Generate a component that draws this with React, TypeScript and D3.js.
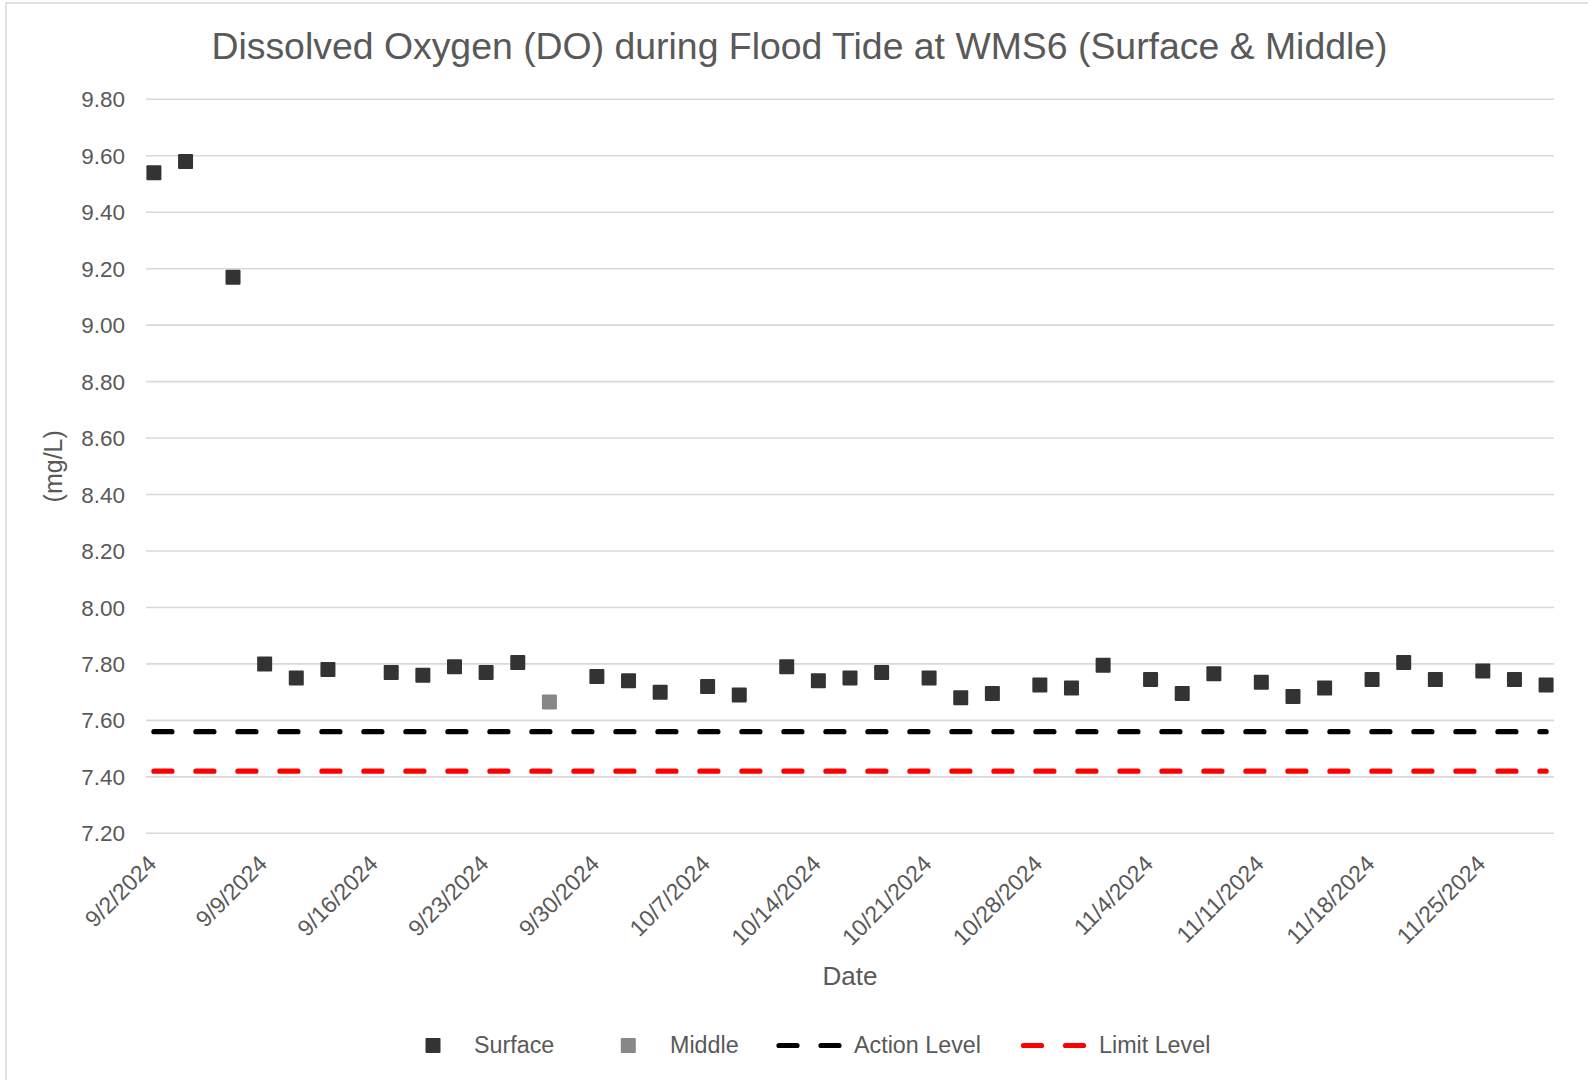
import * as d3 from 'd3';

const surfaceDates = [
  '2024-09-02', '2024-09-04', '2024-09-07', '2024-09-09', '2024-09-11', '2024-09-13',
  '2024-09-17', '2024-09-19', '2024-09-21', '2024-09-23', '2024-09-25', '2024-09-30',
  '2024-10-02', '2024-10-04', '2024-10-07', '2024-10-09', '2024-10-12', '2024-10-14',
  '2024-10-16', '2024-10-18', '2024-10-21', '2024-10-23', '2024-10-25', '2024-10-28',
  '2024-10-30', '2024-11-01', '2024-11-04', '2024-11-06', '2024-11-08', '2024-11-11',
  '2024-11-13', '2024-11-15', '2024-11-18', '2024-11-20', '2024-11-22', '2024-11-25',
  '2024-11-27', '2024-11-29',
];
const surfaceValues = [
  9.54, 9.58, 9.17, 7.80, 7.75, 7.78,
  7.77, 7.76, 7.79, 7.77, 7.805, 7.755,
  7.74, 7.70, 7.72, 7.69, 7.79, 7.74,
  7.75, 7.77, 7.75, 7.68, 7.695, 7.725,
  7.715, 7.795, 7.745, 7.695, 7.765, 7.735,
  7.685, 7.715, 7.745, 7.805, 7.745, 7.775,
  7.745, 7.725,
];

const middleDates = ['2024-09-27'];
const middleValues = [7.665];

const actionLevel = 7.56;
const limitLevel = 7.42;

const xTickDates = [
  '2024-09-02', '2024-09-09', '2024-09-16', '2024-09-23', '2024-09-30', '2024-10-07',
  '2024-10-14', '2024-10-21', '2024-10-28', '2024-11-04', '2024-11-11', '2024-11-18',
  '2024-11-25',
];
const yTicks = [7.2, 7.4, 7.6, 7.8, 8.0, 8.2, 8.4, 8.6, 8.8, 9.0, 9.2, 9.4, 9.6, 9.8];

const W = 1588;
const H = 1080;
const margin = { top: 99.3, right: 34, bottom: 246.7, left: 146 };
const FONT = '"Liberation Sans", Arial, Helvetica, sans-serif';
const TEXT = '#595959';

const parse = d3.utcParse('%Y-%m-%d');
const fmt = d3.utcFormat('%-m/%-d/%Y');

export default function App() {
  const sDates = surfaceDates.map(d => parse(d) as Date);
  const mDates = middleDates.map(d => parse(d) as Date);
  const [d0, d1] = d3.extent(sDates) as [Date, Date];
  const halfDay = 12 * 3600 * 1000;

  const x = d3.scaleUtc()
    .domain([new Date(+d0 - halfDay), new Date(+d1 + halfDay)])
    .range([margin.left, W - margin.right]);
  const y = d3.scaleLinear()
    .domain([7.2, 9.8])
    .range([H - margin.bottom, margin.top]);

  const line = d3.line<[Date, number]>()
    .x(d => x(d[0]))
    .y(d => y(d[1]));

  const levels = [
    { name: 'Action Level', value: actionLevel, color: '#000000' },
    { name: 'Limit Level', value: limitLevel, color: '#FF0000' },
  ];

  const surface = sDates.map((d, i) => [d, surfaceValues[i]] as [Date, number]);
  const middle = mDates.map((d, i) => [d, middleValues[i]] as [Date, number]);
  const ms = 15;

  const legendY = 1045.5;
  const legend = [
    { name: 'Surface', kind: 'square', color: '#333333', x: 425.5, tx: 474 },
    { name: 'Middle', kind: 'square', color: '#878787', x: 620.8, tx: 670 },
    { name: 'Action Level', kind: 'line', color: '#000000', x: 779, tx: 854 },
    { name: 'Limit Level', kind: 'line', color: '#FF0000', x: 1023.5, tx: 1099 },
  ];

  return (
    <div style={{ position: 'absolute', left: 0, top: 0 }}>
      <svg width={W} height={H} style={{ display: 'block', background: '#fff' }} fontFamily={FONT}>
        {/* chart border */}
        <path d={`M6,${H} V3 H${W}`} fill="none" stroke="#d9d9d9" strokeWidth={1.5} />

        <text x={799.5} y={59} textAnchor="middle" fontSize={37.4} fill={TEXT}>
          Dissolved Oxygen (DO) during Flood Tide at WMS6 (Surface &amp; Middle)
        </text>

        {/* gridlines + y labels */}
        {yTicks.map(t => (
          <g key={t}>
            <line x1={margin.left} x2={W - margin.right} y1={y(t)} y2={y(t)} stroke="#d9d9d9" strokeWidth={1.6} />
            <text x={125} y={y(t)} dy="0.36em" textAnchor="end" fontSize={22.5} fill={TEXT}>
              {t.toFixed(2)}
            </text>
          </g>
        ))}

        {/* x labels */}
        {xTickDates.map(s => {
          const d = parse(s) as Date;
          return (
            <text key={s} transform={`translate(${x(d) + 4},${y(7.2) + 32}) rotate(-45)`}
              textAnchor="end" fontSize={23} fill={TEXT}>
              {fmt(d)}
            </text>
          );
        })}

        <text x={(margin.left + W - margin.right) / 2} y={985} textAnchor="middle" fontSize={26} fill={TEXT}>Date</text>
        <text transform={`translate(53,${(y(9.8) + y(7.2)) / 2}) rotate(-90)`} dy="0.35em"
          textAnchor="middle" fontSize={25} fill={TEXT}>(mg/L)</text>

        {/* level lines */}
        {levels.map(l => (
          <path key={l.name}
            d={line([[d0, l.value], [d1, l.value]]) ?? ''}
            fill="none" stroke={l.color} strokeWidth={5.2}
            strokeDasharray="18,24" strokeLinecap="round" />
        ))}

        {/* markers */}
        {surface.map((d, i) => (
          <rect key={`s${i}`} x={x(d[0]) - ms / 2} y={y(d[1]) - ms / 2} width={ms} height={ms} fill="#333333" rx={1} />
        ))}
        {middle.map((d, i) => (
          <rect key={`m${i}`} x={x(d[0]) - ms / 2} y={y(d[1]) - ms / 2} width={ms} height={ms} fill="#878787" rx={1} />
        ))}

        {/* legend */}
        {legend.map(item => (
          <g key={item.name}>
            {item.kind === 'square' ? (
              <rect x={item.x} y={legendY - ms / 2} width={ms} height={ms} fill={item.color} rx={1} />
            ) : (
              <line x1={item.x} x2={item.x + 60} y1={legendY} y2={legendY} stroke={item.color}
                strokeWidth={5.2} strokeDasharray="18,24" strokeLinecap="round" />
            )}
            <text x={item.tx} y={legendY + 7.5} fontSize={23.3} fill={TEXT}>{item.name}</text>
          </g>
        ))}
      </svg>
    </div>
  );
}
